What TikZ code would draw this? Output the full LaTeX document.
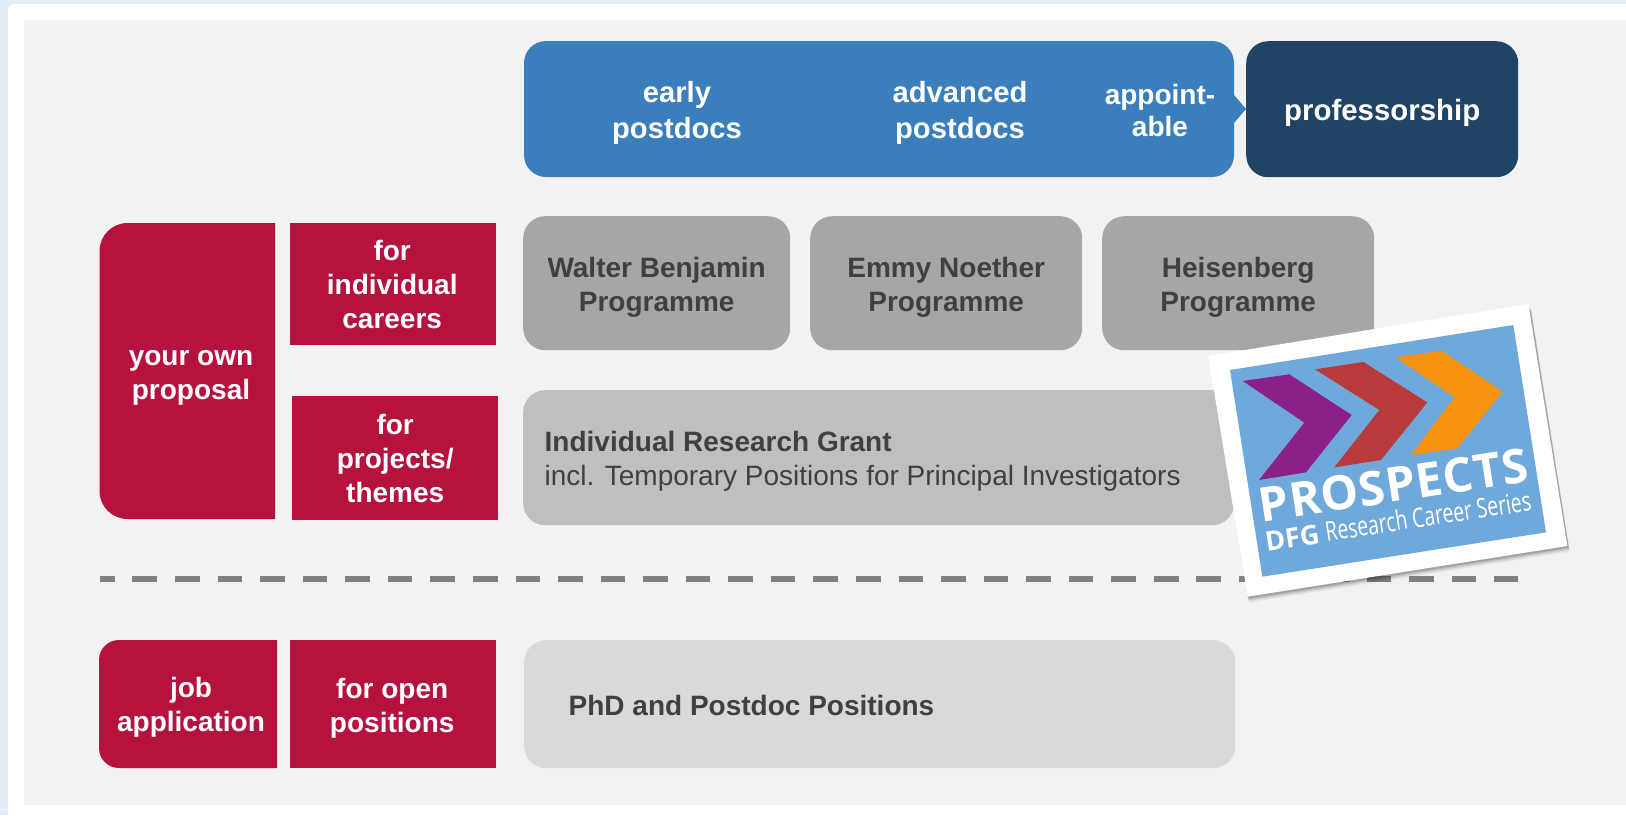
\documentclass[tikz,border=0pt]{standalone}
\usepackage{fontspec}
\setmainfont{Liberation Sans}
\newfontfamily\logofont[LetterSpace=1.5]{Open Sans}
\newfontfamily\logocond{Open Sans}
\definecolor{pagebg}{HTML}{E3EDF7}
\definecolor{panel}{HTML}{F2F2F2}
\definecolor{dfgred}{HTML}{B5123E}
\definecolor{dfgblue}{HTML}{3A7EBB}
\definecolor{dfgnavy}{HTML}{204464}
\definecolor{gA}{HTML}{A6A6A6}
\definecolor{gB}{HTML}{BFBFBF}
\definecolor{gC}{HTML}{D9D9D9}
\definecolor{ink}{HTML}{404040}
\definecolor{logoblue}{HTML}{6FA8DA}
\definecolor{logopurple}{HTML}{8B2088}
\definecolor{logored}{HTML}{B93A3A}
\definecolor{logoorange}{HTML}{F7940F}
\tikzset{
  lbl/.style={align=center,font=\fontsize{28}{34}\selectfont\bfseries,inner sep=0pt},
  big lbl/.style={lbl,text=white,font=\fontsize{29.2}{35.5}\selectfont\bfseries},
  white lbl/.style={lbl,text=white},
  ink lbl/.style={lbl,text=ink},
  sq/.style={rectangle,fill=dfgred,anchor=north west},
  rbox/.style={rectangle,rounded corners=22pt,anchor=north west},
}
\begin{document}
\begin{tikzpicture}[x=1pt,y=-1pt]
\useasboundingbox (0,0) rectangle (1626,815);
\fill[pagebg] (0,0) rectangle (1626,815);
\fill[white,rounded corners=6pt] (8,4) rectangle (1640,830);
\fill[panel] (24,20) rectangle (1626,805);

% career stage bar
\fill[dfgblue,rounded corners=22pt] (524,41) -- (1234,41) -- (1234,177) -- (524,177) -- cycle;
\fill[dfgblue] (1230,95) -- (1234,95) -- (1246,109) -- (1234,123) -- (1230,123) -- cycle;
\node[big lbl] (early) at (677,113) {early\\postdocs};
\node[big lbl] (adv) at (960,113) {advanced\\postdocs};
\node[lbl,text=white,font=\fontsize{28}{32.5}\selectfont\bfseries] (appt) at (1160,110.5) {appoint-\\able};
\node[rbox,fill=dfgnavy,minimum width=272pt,minimum height=136pt] (prof) at (1246,41) {};
\node[big lbl,font=\fontsize{29.4}{35}\selectfont\bfseries] (proft) at ([yshift=-4pt]prof.center) {professorship};

% programme boxes
\node[rbox,fill=gA,minimum width=267pt,minimum height=134pt] (wb) at (523,216) {};
\node[ink lbl] (wbt) at ([yshift=-4.5pt]wb.center) {Walter Benjamin\\Programme};
\node[rbox,fill=gA,minimum width=272pt,minimum height=134pt] (en) at (810,216) {};
\node[ink lbl] (ent) at ([yshift=-4.5pt]en.center) {Emmy Noether\\Programme};
\node[rbox,fill=gA,minimum width=272pt,minimum height=134pt] (hb) at (1102,216) {};
\node[ink lbl] (hbt) at ([yshift=-4.5pt]hb.center) {Heisenberg\\Programme};
\node[rbox,fill=gB,minimum width=711pt,minimum height=135pt] (irg) at (523,390) {};
\node[ink lbl,anchor=west,align=left] (irgt) at ([xshift=21.5pt,yshift=-3.5pt]irg.west) {Individual Research Grant\\\mdseries incl. Temporary Positions for Principal Investigators};
\node[rbox,fill=gC,minimum width=711pt,minimum height=128pt] (phd) at (524,640) {};
\node[ink lbl,anchor=west] (phdt) at ([xshift=44.5pt,yshift=-1pt]phd.west) {PhD and Postdoc Positions};

% red boxes
\fill[dfgred] (275,223) [rounded corners=28pt] -- (99.5,223) -- (99.5,519) [sharp corners] -- (275,519) -- cycle;
\node[white lbl] (own) at (191,377.5) {your own\\proposal};
\node[sq,minimum width=206pt,minimum height=122pt] (ind) at (290,223) {};
\node[white lbl] (indt) at ([xshift=-1pt,yshift=-0.5pt]ind.center) {for\\individual\\careers};
\node[sq,minimum width=206pt,minimum height=124pt] (proj) at (292,396) {};
\node[white lbl] (projt) at (proj.center) {for\\projects/\\themes};
\fill[dfgred] (277,640) [rounded corners=20pt] -- (99,640) -- (99,768) [sharp corners] -- (277,768) -- cycle;
\node[white lbl] (job) at (191,707) {job\\application};
\node[sq,minimum width=206pt,minimum height=128pt] (open) at (290,640) {};
\node[white lbl] (opent) at ([xshift=-1pt,yshift=-4pt]open.center) {for open\\positions};

% dashed divider
\coordinate (dashL) at (99.5,579);
\coordinate (dashR) at (1518,579);
\draw[line width=6pt,color=gray,dash pattern=on 24.6pt off 17.96pt,dash phase=9.6pt] (dashL) -- (dashR);

% logo
\begin{scope}[x=0.33333pt,y=-0.33333pt,xshift=1180pt,yshift=-280pt]
  \foreach \o/\a in {10/.04,8/.05,6/.07,4/.09,2/.12}{
    \fill[black,opacity=\a,shift={(\o*.16pt,-\o*.5pt)}] (90,235) -- (1050,80) -- (1165,800) -- (203,953) -- cycle;
  }
  \fill[white] (85,228) -- (1045,72) -- (1162,798) -- (203,950) -- cycle;
  \fill[logoblue] (150,270) -- (1000,135) -- (1098,757) -- (247,890) -- cycle;
  \fill[logopurple] (188,303) -- (328,283) -- (515,405) -- (378,577) -- (237,600) -- (373,428) -- cycle;
  \fill[logored] (405,268) -- (550,246) -- (742,367) -- (603,540) -- (463,562) -- (598,390) -- cycle;
  \fill[logoorange] (647,232) -- (785,212) -- (968,335) -- (832,505) -- (693,525) -- (823,352) -- cycle;
  \node[rotate=8.7,anchor=base west,inner sep=0pt,text=white,font=\logofont\bfseries\fontsize{47.5}{47.5}\selectfont] (prosp) at (245,727) {PROSPECTS};
  \node[rotate=8.7,anchor=base west,inner sep=0pt,text=white,font=\logocond\fontsize{27}{27}\selectfont] (series) at (440,785) {\scalebox{.72}[1]{Research Career Series}};
  \node[rotate=8.7,anchor=base west,inner sep=0pt,text=white,font=\logocond\bfseries\fontsize{27}{27}\selectfont] (dfg) at (260,815) {DFG};
\end{scope}
\end{tikzpicture}
\end{document}
